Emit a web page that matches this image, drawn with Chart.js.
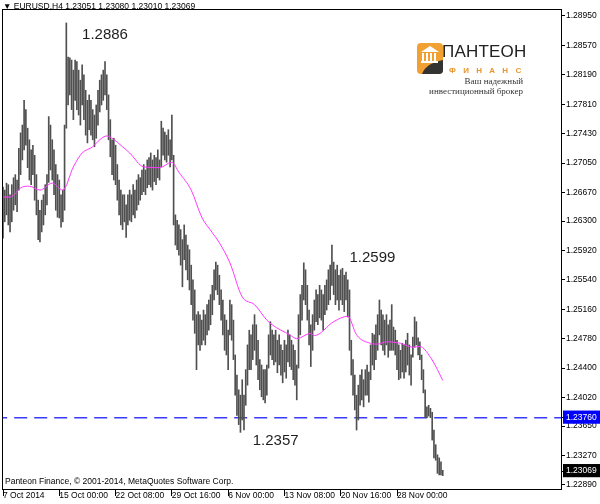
<!DOCTYPE html>
<html>
<head>
<meta charset="utf-8">
<script src="https://cdn.jsdelivr.net/npm/chart.js@4.4.1/dist/chart.umd.min.js"></script>
<style>
  body { margin: 0; background: #fff; }
  #wrap { position: relative; width: 600px; height: 504px; overflow: hidden; }
  #c { position: absolute; left: 0; top: 0; }
  .txt { position: absolute; font-family: "Liberation Sans", Arial, sans-serif; color: #000; white-space: nowrap; }
  #sym { left: 3px; top: 2px; font-size: 8.5px; line-height: 8.5px; }
  #copy { left: 5px; top: 477px; font-size: 8.5px; line-height: 8.5px; }
  #brand { left: 442px; top: 42px; font-size: 17px; line-height: 19px; color: #222; letter-spacing: 0.2px; }
  #fin { left: 449px; top: 67px; font-size: 8px; line-height: 8px; color: #e9952b; font-weight: bold; letter-spacing: 7.3px; }
  .slogan { right: 77px; font-family: "Liberation Serif", serif; font-size: 9px; line-height: 9px; color: #333; text-align: right; }
  #s1 { top: 77px; }
  #s2 { top: 87px; }
  #icon { position: absolute; left: 417px; top: 43px; }
</style>
</head>
<body>
<div id="wrap">
  <canvas id="c" width="600" height="504"></canvas>
  <div class="txt" id="sym"></div>
  <div class="txt" id="copy">Panteon Finance, © 2001-2014, MetaQuotes Software Corp.</div>
  <svg id="icon" width="26" height="31" viewBox="0 0 26 31">
    <path d="M4 0H22Q26 0 26 4V27Q26 31 22 31H4Q0 31 0 27V4Q0 0 4 0Z" fill="#f0a132"/>
    <path d="M5 31Q9 20 26 17V27Q26 31 22 31Z" fill="#333"/>
    <polygon points="4,9 13,3 22,9" fill="#fff"/>
    <rect x="5" y="10" width="2" height="8" fill="#fff"/>
    <rect x="9" y="10" width="2" height="8" fill="#fff"/>
    <rect x="13" y="10" width="2" height="8" fill="#fff"/>
    <rect x="17" y="10" width="2" height="8" fill="#fff"/>
    <rect x="4" y="18" width="17" height="2" fill="#fff"/>
  </svg>
  <div class="txt" id="brand">ПАНТЕОН</div>
  <div class="txt" id="fin">ФИНАНС</div>
  <div class="txt slogan" id="s1">Ваш надежный</div>
  <div class="txt slogan" id="s2">инвестиционный брокер</div>
</div>
<script>
// EURUSD H4 bars (bar 0 = 7 Oct 16:00)
const highs = [
  1.2674,1.2670,1.2679,1.2677,1.2664,1.2677,1.2686,1.2690,1.2683,1.2724,
  1.2744,1.2754,1.2786,1.2774,1.2750,1.2735,1.2722,1.2728,1.2715,1.2690,
  1.2657,1.2644,1.2657,1.2664,1.2677,1.2690,1.2765,1.2754,1.2735,1.2722,
  1.2703,1.2690,1.2683,1.2664,1.2670,1.2754,1.2886,1.2842,1.2841,1.2838,
  1.2825,1.2838,1.2836,1.2825,1.2812,1.2832,1.2819,1.2799,1.2786,1.2793,
  1.2786,1.2774,1.2767,1.2780,1.2799,1.2812,1.2819,1.2825,1.2836,1.2819,
  1.2793,1.2761,1.2735,1.2737,1.2728,1.2703,1.2683,1.2670,1.2664,1.2664,
  1.2651,1.2664,1.2670,1.2664,1.2677,1.2670,1.2683,1.2690,1.2686,1.2696,
  1.2703,1.2696,1.2709,1.2712,1.2718,1.2709,1.2715,1.2712,1.2722,1.2709,
  1.2759,1.2750,1.2745,1.2741,1.2748,1.2735,1.2767,1.2715,1.2638,1.2631,
  1.2625,1.2619,1.2606,1.2625,1.2612,1.2599,1.2593,1.2573,1.2554,1.2541,
  1.2509,1.2513,1.2509,1.2502,1.2515,1.2509,1.2522,1.2528,1.2535,1.2547,
  1.2567,1.2577,1.2573,1.2560,1.2541,1.2528,1.2509,1.2502,1.2489,1.2528,
  1.2522,1.2502,1.2457,1.2431,1.2412,1.2405,1.2425,1.2405,1.2438,1.2470,
  1.2489,1.2483,1.2496,1.2509,1.2496,1.2476,1.2451,1.2444,1.2438,1.2438,
  1.2444,1.2483,1.2500,1.2489,1.2483,1.2489,1.2476,1.2483,1.2470,1.2463,
  1.2476,1.2470,1.2489,1.2483,1.2476,1.2470,1.2463,1.2444,1.2509,1.2535,
  1.2547,1.2576,1.2567,1.2547,1.2515,1.2496,1.2509,1.2528,1.2541,1.2535,
  1.2547,1.2541,1.2535,1.2547,1.2554,1.2567,1.2573,1.2599,1.2577,1.2567,
  1.2573,1.2560,1.2567,1.2569,1.2560,1.2564,1.2554,1.2541,1.2476,1.2451,
  1.2431,1.2405,1.2418,1.2431,1.2438,1.2425,1.2438,1.2444,1.2435,1.2470,
  1.2485,1.2483,1.2496,1.2509,1.2528,1.2515,1.2509,1.2502,1.2509,1.2496,
  1.2502,1.2522,1.2493,1.2489,1.2476,1.2470,1.2463,1.2472,1.2470,1.2476,
  1.2485,1.2470,1.2457,1.2480,1.2506,1.2500,1.2479,1.2474,1.2457,1.2438,
  1.2412,1.2390,1.2392,1.2388,1.2383,1.2360,1.2341,1.2328,1.2324,1.2319,
  1.23080
];
const lows = [
  1.2608,1.2629,1.2638,1.2625,1.2616,1.2629,1.2644,1.2651,1.2642,1.2670,
  1.2690,1.2709,1.2722,1.2728,1.2699,1.2683,1.2677,1.2690,1.2657,1.2638,
  1.2606,1.2603,1.2616,1.2625,1.2638,1.2651,1.2680,1.2696,1.2683,1.2664,
  1.2644,1.2635,1.2634,1.2622,1.2629,1.2644,1.2750,1.2780,1.2793,1.2774,
  1.2761,1.2786,1.2774,1.2767,1.2754,1.2780,1.2761,1.2741,1.2731,1.2748,
  1.2741,1.2735,1.2726,1.2737,1.2754,1.2771,1.2780,1.2786,1.2793,1.2774,
  1.2735,1.2713,1.2690,1.2683,1.2677,1.2657,1.2638,1.2625,1.2619,1.2629,
  1.2609,1.2625,1.2631,1.2629,1.2638,1.2634,1.2644,1.2651,1.2657,1.2664,
  1.2668,1.2664,1.2673,1.2677,1.2674,1.2670,1.2681,1.2677,1.2686,1.2683,
  1.2700,1.2715,1.2709,1.2706,1.2715,1.2700,1.2709,1.2625,1.2599,1.2593,
  1.2586,1.2573,1.2545,1.2580,1.2567,1.2554,1.2541,1.2522,1.2502,1.2485,
  1.2438,1.2470,1.2463,1.2470,1.2476,1.2470,1.2483,1.2489,1.2496,1.2509,
  1.2528,1.2541,1.2535,1.2522,1.2502,1.2483,1.2463,1.2457,1.2438,1.2483,
  1.2476,1.2451,1.2405,1.2379,1.2367,1.2357,1.2373,1.2360,1.2392,1.2418,
  1.2438,1.2438,1.2451,1.2463,1.2444,1.2425,1.2412,1.2403,1.2399,1.2395,
  1.2405,1.2440,1.2457,1.2451,1.2444,1.2448,1.2434,1.2444,1.2431,1.2421,
  1.2435,1.2427,1.2448,1.2442,1.2438,1.2425,1.2418,1.2399,1.2440,1.2483,
  1.2502,1.2528,1.2522,1.2502,1.2470,1.2442,1.2463,1.2489,1.2500,1.2496,
  1.2505,1.2502,1.2489,1.2509,1.2515,1.2522,1.2528,1.2547,1.2535,1.2522,
  1.2528,1.2515,1.2528,1.2522,1.2513,1.2528,1.2506,1.2463,1.2431,1.2405,
  1.2386,1.2360,1.2373,1.2392,1.2399,1.2390,1.2405,1.2405,1.2396,1.2425,
  1.2444,1.2438,1.2451,1.2463,1.2483,1.2470,1.2463,1.2457,1.2470,1.2454,
  1.2463,1.2463,1.2463,1.2457,1.2438,1.2425,1.2427,1.2435,1.2427,1.2435,
  1.2444,1.2431,1.2418,1.2454,1.2467,1.2470,1.2457,1.2451,1.2425,1.2408,
  1.2376,1.2376,1.2378,1.2376,1.2347,1.2324,1.2321,1.2304,1.2302,1.2302,
  1.23010
];
const lastOpen = 1.23051;
const lastClose = 1.23069;

// moving average, read at these bar positions
const maIdx = [0,4,11,15,21,28,34,40,45,51,55,59,62,68,72,80,89,96,100,107,113,119,123,129,136,143,150,153,163,167,175,177,188,196,201,209,213,218,226,233,237,243,247,250];
const maVals = [1.2661,1.2661,1.2674,1.2675,1.2670,1.2679,1.2670,1.2700,1.2718,1.2726,1.2735,1.2740,1.2737,1.2726,1.2718,1.2700,1.2699,1.2706,1.2693,1.2670,1.2635,1.2615,1.2602,1.2576,1.2532,1.2522,1.2502,1.2496,1.2483,1.2478,1.2485,1.2482,1.2500,1.2507,1.2483,1.2472,1.2471,1.2474,1.2472,1.2467,1.2468,1.2454,1.2438,1.2424];

// time axis labels (bar index -> text)
const timeIdx = [0, 32, 64, 96, 128, 160, 192, 224];
const timeText = ['7 Oct 2014', '15 Oct 00:00', '22 Oct 08:00', '29 Oct 16:00', '6 Nov 00:00', '13 Nov 08:00', '20 Nov 16:00', '28 Nov 00:00'];

// price scale labels
const priceTicks = [1.2895, 1.2857, 1.2819, 1.2781, 1.2743, 1.2705, 1.2667, 1.2630, 1.2592, 1.2554, 1.2516, 1.2478, 1.2440, 1.2402, 1.2365, 1.2327, 1.2289];
const levelPrice = 1.2376;

const last = highs.length - 1;
document.getElementById('sym').textContent =
  '\u25BC EURUSD,H4  ' + [lastOpen, highs[last], lows[last], lastClose].map(v => v.toFixed(5)).join(' ');

const FONT = 'Liberation Sans';

// extremes that get a price note
function argMax(a, from, to) { let k = from; for (let i = from; i < to; i++) if (a[i] > a[k]) k = i; return k; }
function argMin(a, from, to) { let k = from; for (let i = from; i < to; i++) if (a[i] < a[k]) k = i; return k; }
const iMax = argMax(highs, 0, 100);
const iLateMax = argMax(highs, 150, 230);
const iMin = argMin(lows, 100, 200);
const notes = [
  { i: iMax, v: highs[iMax], di: 22, dv: -0.0016 },
  { i: iLateMax, v: highs[iLateMax], di: 23, dv: -0.0016 },
  { i: iMin, v: lows[iMin], di: 20, dv: -0.0011 }
];

const notePlugin = {
  id: 'notes',
  afterDatasetsDraw(chart) {
    const { ctx, scales: { x, y } } = chart;
    ctx.save();
    ctx.font = '15px "' + FONT + '"';
    ctx.fillStyle = '#1e1e1e';
    ctx.textAlign = 'center';
    ctx.textBaseline = 'middle';
    notes.forEach(n => {
      ctx.fillText(n.v.toFixed(4), x.getPixelForValue(n.i + n.di), y.getPixelForValue(n.v + n.dv));
    });
    ctx.restore();
  }
};

const framePlugin = {
  id: 'frame',
  afterDraw(chart) {
    const { ctx, chartArea: a } = chart;
    ctx.save();
    ctx.strokeStyle = '#000';
    ctx.lineWidth = 1;
    ctx.strokeRect(a.left + 0.5, a.top + 0.5, a.right - a.left - 1, a.bottom - a.top);
    ctx.restore();
  }
};

const isMark = v => Math.abs(v - levelPrice) < 1e-7 || Math.abs(v - lastClose) < 1e-7;

new Chart(document.getElementById('c'), {
  data: {
    datasets: [
      {
        type: 'line',
        data: maIdx.map((v, k) => ({ x: v, y: maVals[k] })),
        borderColor: '#ff38ff',
        borderWidth: 1,
        pointRadius: 0,
        cubicInterpolationMode: 'monotone',
        order: 0
      },
      {
        type: 'bar',
        data: highs.map((h, i) => ({ x: i, y: [lows[i], h] })),
        backgroundColor: '#505050',
        barThickness: 1,
        order: 1
      },
      {
        type: 'line',
        data: [{ x: -5, y: levelPrice }, { x: 330, y: levelPrice }],
        borderColor: '#3a3aff',
        borderWidth: 1.5,
        borderDash: [13, 7],
        pointRadius: 0,
        order: 2
      }
    ]
  },
  options: {
    responsive: false,
    animation: false,
    layout: { padding: { left: 2, top: 9, right: 0, bottom: 0 } },
    plugins: { legend: { display: false }, tooltip: { enabled: false } },
    scales: {
      x: {
        type: 'linear',
        min: -0.57,
        max: 317.8,
        offset: false,
        afterBuildTicks: s => { s.ticks = timeIdx.map(v => ({ value: v })); },
        afterFit: s => { s.height = 15; },
        grid: { drawOnChartArea: false, offset: false, tickLength: 7, color: '#000' },
        border: { display: false },
        ticks: {
          autoSkip: false,
          maxRotation: 0,
          align: 'start',
          padding: -5,
          color: '#000',
          font: { family: FONT, size: 8.5 },
          callback: (v, i) => timeText[i]
        }
      },
      y: {
        type: 'linear',
        position: 'right',
        min: 1.22838,
        max: 1.29040,
        afterBuildTicks: s => {
          s.ticks = priceTicks.concat([levelPrice, lastClose]).sort((a, b) => a - b).map(v => ({ value: v }));
        },
        afterFit: s => { s.width = 38; },
        grid: { drawOnChartArea: false, tickLength: 3, color: '#000' },
        border: { display: false },
        ticks: {
          autoSkip: false,
          padding: 1,
          font: { family: FONT, size: 8.5 },
          color: c => isMark(c.tick.value) ? '#fff' : '#000',
          showLabelBackdrop: true,
          backdropColor: c => Math.abs(c.tick.value - levelPrice) < 1e-7 ? '#0000ff'
            : Math.abs(c.tick.value - lastClose) < 1e-7 ? '#000' : 'rgba(0,0,0,0)',
          backdropPadding: { left: 3, right: 4, top: 2, bottom: 1 },
          callback: v => v.toFixed(5)
        }
      }
    }
  },
  plugins: [notePlugin, framePlugin]
});
</script>
</body>
</html>
